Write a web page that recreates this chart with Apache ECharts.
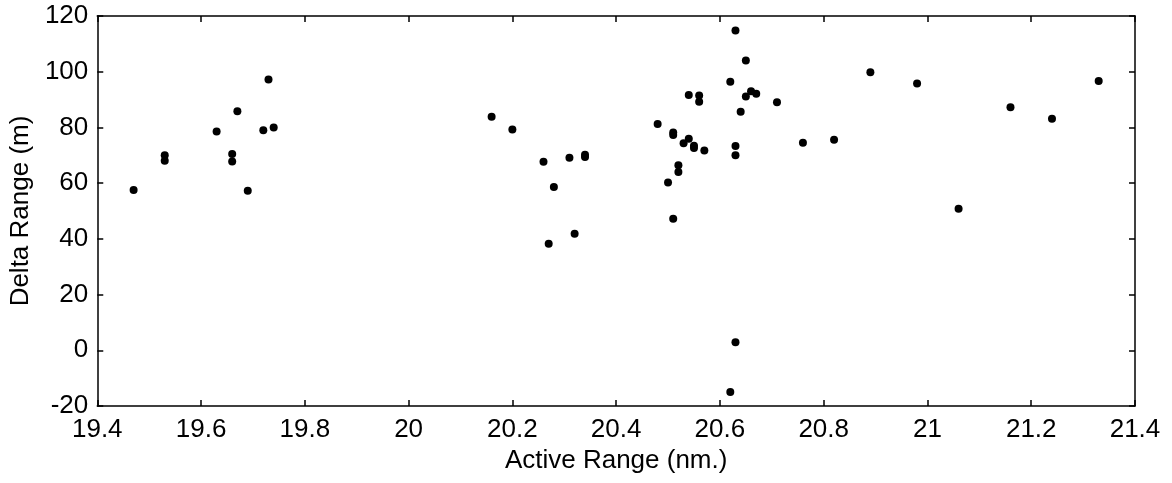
<!DOCTYPE html>
<html>
<head>
<meta charset="utf-8">
<script src="https://cdn.jsdelivr.net/npm/echarts@6/dist/echarts.min.js"></script>
<style>html,body{margin:0;padding:0;background:#fff;}#c{width:1172px;height:483px;}</style>
</head>
<body>
<div id="c"></div>
<script>
const activeRange = [19.47,19.53,19.53,19.63,19.66,19.66,19.67,19.69,19.72,19.73,19.74,
  20.16,20.20,20.26,20.27,20.28,20.31,20.32,20.34,20.34,
  20.48,20.50,20.51,20.51,20.51,20.52,20.52,20.53,20.54,20.54,20.55,20.55,20.56,20.56,20.57,
  20.62,20.63,20.63,20.63,20.63,20.62,20.64,20.65,20.65,20.66,20.67,20.71,
  20.76,20.82,20.89,20.98,21.06,21.16,21.24,21.33];
const deltaRange = [57.5,70,68,78.5,70.5,67.8,85.8,57.3,79,97.2,80,
  83.8,79.3,67.7,38.2,58.6,69.1,41.8,69.4,70.2,
  81.2,60.2,78.2,77.3,47.2,66.4,64,74.3,75.9,91.6,73.4,72.6,91.5,89.2,71.7,
  96.4,114.8,73.3,70,2.9,-15,85.6,104,91.1,93,92.1,89,
  74.5,75.6,99.8,95.8,50.8,87.2,83.1,96.7];
const xTicks = {min:19.4, max:21.4, interval:0.2};
const yTicks = {min:-20, max:120, interval:20};

const points = activeRange.map((x,i)=>[x, deltaRange[i]]);
const font = 'Liberation Sans, Arial, Helvetica, sans-serif';
const axisLine = {show:true, onZero:false, lineStyle:{color:'#000', width:1.5}};
const tick = {show:true, inside:true, length:6, lineStyle:{color:'#000', width:1.5}};
const chart = echarts.init(document.getElementById('c'), null, {renderer:'canvas'});
chart.setOption({
  animation:false,
  backgroundColor:'#fff',
  grid:{left:97, right:37, top:16, bottom:77},
  xAxis:[{
    type:'value', min:xTicks.min, max:xTicks.max, interval:xTicks.interval,
    axisLine, axisTick:tick, splitLine:{show:false},
    axisLabel:{color:'#000', fontSize:26, fontFamily:font, margin:11,
      formatter:v=>String(Math.round(v*10)/10)},
    name:'Active Range (nm.)', nameLocation:'middle', nameGap:41,
    nameTextStyle:{color:'#000', fontSize:26, fontFamily:font}
  },{
    type:'value', position:'top', min:xTicks.min, max:xTicks.max, interval:xTicks.interval,
    axisLine, axisTick:tick, axisLabel:{show:false}, splitLine:{show:false}
  }],
  yAxis:[{
    type:'value', min:yTicks.min, max:yTicks.max, interval:yTicks.interval,
    axisLine, axisTick:tick, splitLine:{show:false},
    axisLabel:{color:'#000', fontSize:26, fontFamily:font, margin:9},
    name:'Delta Range (m)', nameLocation:'middle', nameGap:60, nameRotate:90,
    nameTextStyle:{color:'#000', fontSize:26, fontFamily:font}
  },{
    type:'value', position:'right', min:yTicks.min, max:yTicks.max, interval:yTicks.interval,
    axisLine, axisTick:tick, axisLabel:{show:false}, splitLine:{show:false}
  }],
  series:[{
    type:'scatter', data:points, symbol:'circle', symbolSize:8,
    itemStyle:{color:'#000', opacity:1}
  }]
});
</script>
</body>
</html>
